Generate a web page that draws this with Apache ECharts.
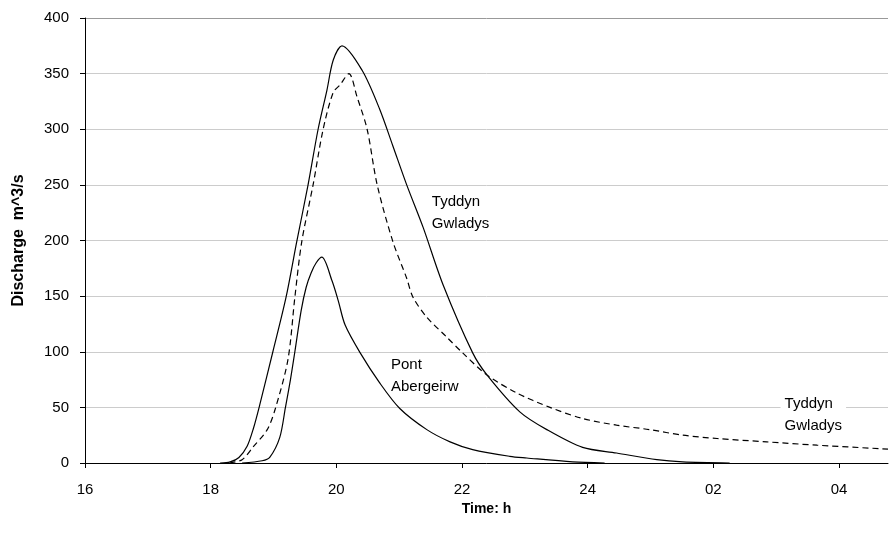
<!DOCTYPE html>
<html>
<head>
<meta charset="utf-8">
<script src="https://cdn.jsdelivr.net/npm/echarts@6/dist/echarts.min.js"></script>
<style>
html, body { margin: 0; padding: 0; background: #fff; }
#chart { width: 890px; height: 534px; }
</style>
</head>
<body>
<div id="chart"></div>
<script>
// hours since 00:00 of the first day (24+ = next morning)
var tyddynHours = [18.15, 18.31, 18.45, 18.58, 18.68, 18.78, 18.99, 19.20, 19.37, 19.55, 19.71, 19.85, 19.95, 20.09,
    20.41, 20.69, 20.90, 21.12, 21.38, 21.70, 22.17, 22.40, 22.92, 23.35, 23.92, 24.46, 25.10, 25.51, 26.26];
var tyddynFlow = [0, 1, 5, 15, 31, 52, 100, 149, 199, 250, 300, 335, 362, 375,
    353, 318, 285, 250, 212, 160, 99, 79, 46, 30, 14, 9, 3, 1, 0];

var tyddynDashHours = [18.30, 18.50, 18.67, 18.90, 19.03, 19.23, 19.34, 19.45, 19.63, 19.79, 19.95, 20.06, 20.20,
    20.33, 20.49, 20.65, 20.90, 21.12, 21.22, 21.44, 21.76, 22.01, 22.40, 22.87, 23.40, 23.92, 24.46,
    24.99, 25.51, 26.06, 26.85, 27.65, 28.78];
var tyddynDashFlow = [0, 3, 14, 30, 49, 93, 149, 199, 250, 300, 333, 340, 350,
    329, 300, 250, 199, 166, 149, 131, 113, 99, 79, 63, 50, 40, 34,
    30, 25, 22, 19, 16, 12.5];

var pontHours = [18.50, 18.82, 18.94, 19.10, 19.19, 19.27, 19.34, 19.44, 19.52, 19.60, 19.68, 19.77, 19.93, 20.03, 20.14,
    20.38, 20.69, 21.01, 21.44, 21.81, 22.17, 22.76, 23.03, 23.76, 24.27];
var pontFlow = [0, 2, 5, 23, 50, 75, 100, 137, 158, 171, 180, 185, 164, 146, 124,
    99, 72, 49, 30, 19, 12, 6, 4.5, 1, 0];

var xTicks = [16, 18, 20, 22, 24, 26, 28];
var xTickLabels = ['16', '18', '20', '22', '24', '02', '04'];

function pairs(xs, ys) {
    var out = [];
    for (var i = 0; i < xs.length; i++) out.push([xs[i], ys[i]]);
    return out;
}

var myChart = echarts.init(document.getElementById('chart'));
var font = 'Liberation Sans, Arial, sans-serif';

function note(text, coord, boxed) {
    var label = {
        show: true, position: [0, 0], align: 'left', verticalAlign: 'top',
        color: '#000', fontSize: 15, lineHeight: 22, fontFamily: font,
        formatter: text
    };
    if (boxed) {
        label.backgroundColor = '#fff';
        label.padding = [0, 4, 0, 4];
    }
    return { symbolSize: 0, label: label, data: [{ coord: coord }] };
}

var option = {
    backgroundColor: '#fff',
    animation: false,
    textStyle: { fontFamily: font },
    grid: { left: 85, right: 2, top: 18, bottom: 71 },
    xAxis: {
        type: 'value',
        min: 16,
        max: 28.78,
        interval: 2,
        name: 'Time: h',
        nameLocation: 'middle',
        nameGap: 34,
        nameTextStyle: { color: '#000', fontSize: 14, fontWeight: 'bold', fontFamily: font },
        axisLine: { lineStyle: { color: '#000', width: 1 } },
        axisTick: { show: true, length: 5, lineStyle: { color: '#000' } },
        axisLabel: {
            color: '#000', fontSize: 15, margin: 19, fontFamily: font,
            showMaxLabel: false,
            formatter: function (v) {
                var i = xTicks.indexOf(v);
                return i < 0 ? '' : xTickLabels[i];
            }
        },
        splitLine: { show: false }
    },
    yAxis: {
        type: 'value',
        min: 0,
        max: 400,
        interval: 50,
        name: 'Discharge  m^3/s',
        nameLocation: 'middle',
        nameGap: 58,
        nameTextStyle: { color: '#000', fontSize: 16, fontWeight: 'bold', fontFamily: font },
        axisLine: { show: true, lineStyle: { color: '#000', width: 1 } },
        axisTick: { show: true, length: 5, lineStyle: { color: '#000' } },
        axisLabel: { color: '#000', fontSize: 15, margin: 16, fontFamily: font },
        splitLine: {
            show: true,
            lineStyle: {
                color: ['#ccc', '#ccc', '#ccc', '#ccc', '#ccc', '#ccc', '#ccc', '#ccc', '#999'],
                width: 1
            }
        }
    },
    series: [
        {
            name: 'Tyddyn Gwladys',
            type: 'line',
            data: pairs(tyddynHours, tyddynFlow),
            showSymbol: false,
            smooth: 0.3,
            lineStyle: { color: '#000', width: 1.2 },
            markPoint: note('Tyddyn\nGwladys', [21.52, 245], false)
        },
        {
            name: 'Tyddyn Gwladys (dashed)',
            type: 'line',
            data: pairs(tyddynDashHours, tyddynDashFlow),
            showSymbol: false,
            smooth: 0.3,
            lineStyle: { color: '#000', width: 1.2, type: [6, 4] },
            markPoint: note('Tyddyn\nGwladys', [27.07, 63], true)
        },
        {
            name: 'Pont Abergeirw',
            type: 'line',
            data: pairs(pontHours, pontFlow),
            showSymbol: false,
            smooth: 0.3,
            lineStyle: { color: '#000', width: 1.2 },
            markPoint: note('Pont\nAbergeirw', [20.87, 98], false)
        }
    ]
};
myChart.setOption(option);
</script>
</body>
</html>
